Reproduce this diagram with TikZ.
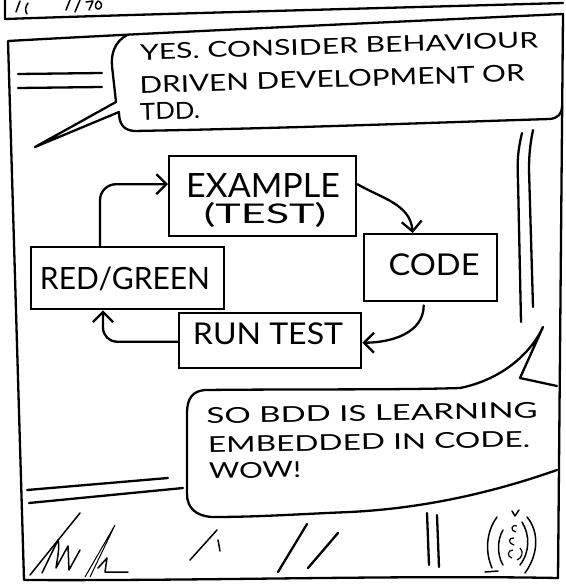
\documentclass[tikz,border=0pt]{standalone}
\usepackage{fontspec}
\setmainfont{Lato}
\usetikzlibrary{arrows.meta,calc}
\newcommand{\hw}[3]{\resizebox*{#1}{#2}{#3}}
\begin{document}
\begin{tikzpicture}[x=1pt,y=-1pt,
  ink/.style={line width=2.3pt, line cap=round, line join=round},
  thinink/.style={line width=1.5pt, line cap=round, line join=round},
  boxnode/.style={draw, line width=2.4pt, inner sep=0pt, anchor=north west},
  txt/.style={inner sep=0pt},
  arr/.style={ink, -{Straight Barb[length=10pt,width=20pt,line width=2.3pt]}},
]
\useasboundingbox (0,0) rectangle (565,586);
\fill[white] (0,0) rectangle (565,586);

% ---- strip of the panel above ----
\draw[ink] (5,0) -- (5,19) .. controls (150,14) and (350,9) .. (563,3);
\draw[thinink] (20,1) -- (16,12);
\draw[thinink] (28,3) .. controls (25,7) and (25,11) .. (27,14);
\draw[thinink] (70,0) -- (66,10);
\draw[thinink] (80,0) -- (75,12);
\draw[thinink] (86,2) -- (93,1) -- (89,10);
\draw[thinink] (98,1) .. controls (94,4) and (95,10) .. (99,9) .. controls (103,7) and (102,2) .. (98,1);

% ---- main panel frame ----
\draw[ink] (8,41) .. controls (150,33) and (350,24) .. (563,14)
  -- (558,578) .. controls (400,575) and (200,581) .. (24,580) -- cycle;

% ---- speech bubble 1 ----
\draw[ink] (127,35) .. controls (114,42) and (111,55) .. (112,66)
  -- (116,102) -- (35,147) -- (119,112)
  .. controls (119,122) and (122,130) .. (134,131)
  .. controls (300,128) and (450,122) .. (550,119)
  .. controls (558,118) and (562,114) .. (562,106);
\draw[ink] (18,74) -- (102,73);
\draw[ink] (18,88) -- (102,87);
\node[txt, rotate=1.8] (b1a) at (339,46) {\hw{398pt}{16pt}{YES. CONSIDER BEHAVIOUR}};
\node[txt, rotate=1.8] (b1b) at (332,79) {\hw{385pt}{17pt}{DRIVEN DEVELOPMENT OR}};
\node[txt, rotate=1.8] (b1c) at (170,111) {\hw{60pt}{17pt}{TDD.}};

% ---- double vertical lines at right ----
\draw[ink] (522,133) .. controls (518,150) and (517,160) .. (518,180) -- (521,322);
\draw[ink] (533,130) .. controls (530,145) and (529,155) .. (529,170) -- (533,307);

% ---- cycle diagram ----
\node[boxnode, minimum width=187pt, minimum height=80pt] (ex) at (168,155) {};
\node[boxnode, minimum width=133pt, minimum height=67pt] (cd) at (363,233) {};
\node[boxnode, minimum width=193pt, minimum height=62pt] (rg) at (30,246) {};
\node[boxnode, minimum width=182pt, minimum height=55pt] (rt) at (178,312) {};

\node[txt] (exa) at (263,185) {\hw{154pt}{24pt}{EXAMPLE}};
\node[txt] (exb) at (265,214.5) {\hw{122pt}{25pt}{(TEST)}};
\node[txt] (cdt) at (434,265) {\hw{91pt}{22pt}{CODE}};
\node[txt] (rgt) at (125,279) {\hw{170pt}{24pt}{RED/GREEN}};
\node[txt] (rtt) at (268,334) {\hw{150pt}{22pt}{RUN TEST}};

\draw[arr, rounded corners=16pt] ([xshift=70pt]rg.north west) |- ([yshift=12pt]ex.west);
\draw[arr] ([yshift=12pt]ex.east) to[out=-30,in=95] ([xshift=-18pt]cd.north);
\draw[arr] ([xshift=-7pt,yshift=-3pt]cd.south) to[out=-90,in=0] ([yshift=-2pt]rt.east);
\draw[arr, rounded corners=14pt] ([yshift=-1pt]rt.west) -| ([xshift=73pt]rg.south west);

% ---- speech bubble 2 ----
\draw[ink] (557,386) -- (520,378) -- (543,327)
  .. controls (530,355) and (500,380) .. (460,388)
  .. controls (400,390) and (300,389) .. (205,390)
  .. controls (193,391) and (187,398) .. (187,413)
  -- (187,494) .. controls (187,508) and (196,516) .. (212,517)
  .. controls (260,517) and (300,514) .. (350,512)
  .. controls (430,508) and (500,490) .. (557,470);
\draw[ink] (27,490) -- (168,478);
\draw[ink] (29,503) -- (183,488);
\node[txt, rotate=1] (b2a) at (372,413) {\hw{331pt}{16pt}{SO BDD IS LEARNING}};
\node[txt, rotate=1] (b2b) at (369,442) {\hw{322pt}{16pt}{EMBEDDED IN CODE.}};
\node[txt, rotate=1] (b2c) at (255,470) {\hw{92pt}{16pt}{WOW!}};

% ---- bottom scribbles ----
\draw[thinink] (30,575) -- (80,513);
\draw[thinink] (42,573) -- (58,540) .. controls (60,548) and (57,560) .. (56,568)
  -- (68,546) -- (69,570) -- (80,550);
\draw[line width=1pt] (85,577) -- (115,525) -- (90,577);
\draw[thinink] (98,568) -- (107,558) -- (105,572) -- (128,572);
\draw[thinink] (190,560) -- (217,530);
\draw[thinink] (218,540) -- (220,551);
\draw[ink] (278,572) -- (307,524);
\draw[ink] (308,568) -- (338,533);
\draw[ink] (427,513) -- (429,565);
\draw[ink] (437,515) -- (439,567);
\draw[thinink] (497,517) .. controls (486,532) and (485,552) .. (492,568);
\draw[thinink] (503,530) .. controls (497,540) and (497,555) .. (503,565);
\draw[thinink] (527,517) .. controls (538,530) and (540,552) .. (525,573);
\draw[thinink] (522,522) .. controls (530,535) and (530,552) .. (520,565);
\draw[thinink] (485,572) -- (498,571);
\draw[thinink] (512,511) -- (515,516) -- (519,510);
\draw[line width=1.2pt] (517,526) .. controls (511,524) and (510,531) .. (516,532);
\draw[line width=1.2pt] (514,538) .. controls (508,537) and (508,544) .. (514,545);
\draw[line width=1.2pt] (513,550) .. controls (507,550) and (507,557) .. (512,558);
\draw[line width=1.2pt] (520,548) .. controls (524,552) and (522,558) .. (517,560);
\end{tikzpicture}
\end{document}
